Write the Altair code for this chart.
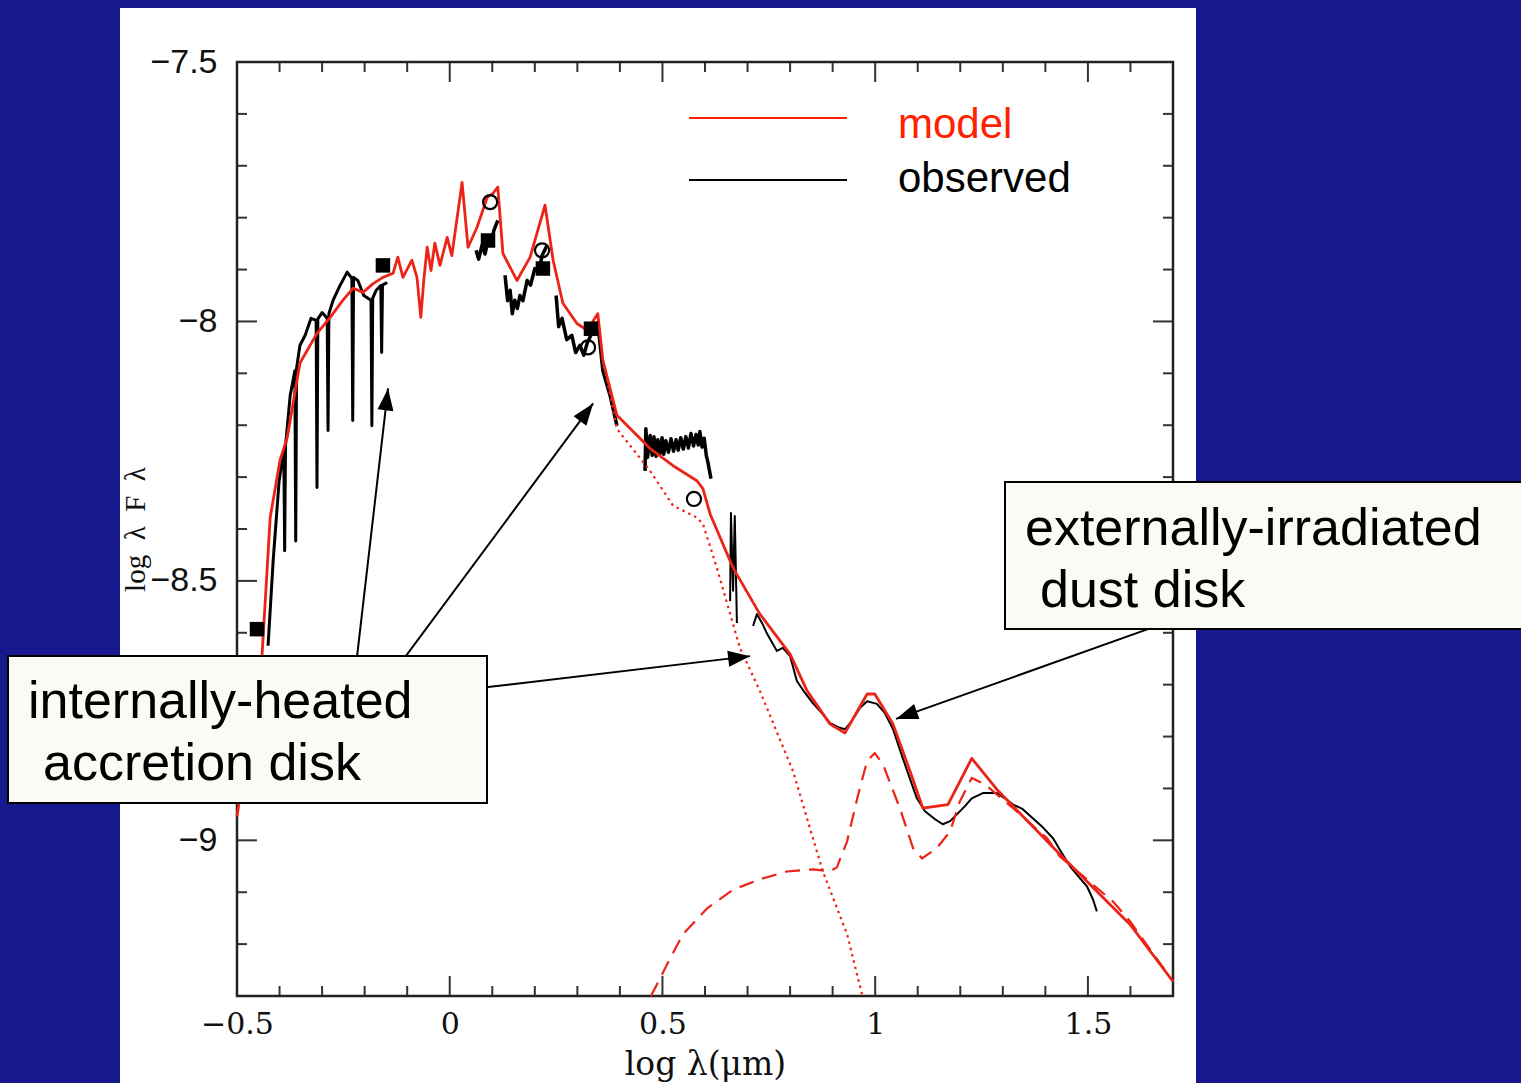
import altair as alt
import pandas as pd

# ---------------- data ----------------
# total model (solid red)
model_x = [-0.500, -0.474, -0.441, -0.422, -0.399, -0.382, -0.352, -0.312, -0.281, -0.251,
           -0.227, -0.204, -0.180, -0.157, -0.133, -0.122, -0.110, -0.089, -0.077, -0.068,
           -0.061, -0.053, -0.044, -0.035, -0.023, -0.006, 0.005, 0.029, 0.043, 0.064,
           0.088, 0.102, 0.113, 0.125, 0.158, 0.189, 0.224, 0.243, 0.266, 0.299,
           0.323, 0.348, 0.360, 0.393, 0.471, 0.525, 0.581, 0.595, 0.612, 0.666,
           0.729, 0.800, 0.840, 0.894, 0.929, 0.981, 0.999, 1.042, 1.082, 1.112,
           1.171, 1.227, 1.286, 1.434, 1.599, 1.700]
model_y = [-8.954, -8.809, -8.641, -8.378, -8.268, -8.224, -8.080, -8.023, -7.992, -7.959,
           -7.936, -7.944, -7.927, -7.915, -7.907, -7.876, -7.915, -7.882, -7.915, -7.992,
           -7.921, -7.857, -7.902, -7.849, -7.892, -7.838, -7.873, -7.732, -7.857, -7.819,
           -7.761, -7.753, -7.741, -7.869, -7.921, -7.876, -7.776, -7.882, -7.965, -8.004,
           -8.017, -7.985, -8.075, -8.181, -8.245, -8.278, -8.307, -8.322, -8.371, -8.475,
           -8.564, -8.641, -8.712, -8.776, -8.793, -8.718, -8.718, -8.776, -8.867, -8.938,
           -8.931, -8.842, -8.902, -9.027, -9.162, -9.272]

# internally-heated accretion disk (dotted red)
disk_x = [0.360, 0.393, 0.471, 0.525, 0.581, 0.595, 0.628, 0.682, 0.729, 0.807, 0.877, 0.934, 0.970]
disk_y = [-8.075, -8.207, -8.288, -8.355, -8.378, -8.390, -8.475, -8.629, -8.712, -8.867, -9.060, -9.181, -9.300]

# externally-irradiated dust disk (dashed red)
dust_x = [0.473, 0.511, 0.548, 0.605, 0.666, 0.729, 0.793, 0.854, 0.894, 0.910, 0.934, 0.959,
          0.981, 0.999, 1.018, 1.058, 1.089, 1.110, 1.145, 1.176, 1.199, 1.227, 1.258, 1.324,
          1.404, 1.434, 1.559, 1.599, 1.700]
dust_y = [-9.300, -9.239, -9.181, -9.131, -9.095, -9.075, -9.060, -9.056, -9.060, -9.052, -9.002, -8.915,
          -8.847, -8.832, -8.853, -8.938, -9.015, -9.035, -9.015, -8.983, -8.925, -8.880, -8.892, -8.938,
          -8.996, -9.031, -9.118, -9.156, -9.272]

# observed spectra (black), several pieces
obs_opt_x = [-0.427, -0.415, -0.401, -0.390, -0.388, -0.386, -0.375, -0.364, -0.362, -0.360,
             -0.352, -0.340, -0.326, -0.314, -0.312, -0.310, -0.300, -0.288, -0.286, -0.284,
             -0.274, -0.258, -0.241, -0.230, -0.228, -0.226, -0.216, -0.202, -0.185, -0.183,
             -0.181, -0.173, -0.162, -0.160, -0.158, -0.147]
obs_opt_y = [-8.625, -8.461, -8.307, -8.249, -8.442, -8.240, -8.143, -8.095, -8.423, -8.090,
             -8.046, -8.027, -7.994, -7.998, -8.320, -7.995, -7.983, -7.994, -8.210, -7.985,
             -7.959, -7.931, -7.905, -7.917, -8.191, -7.915, -7.921, -7.950, -7.959, -8.201,
             -7.955, -7.940, -7.931, -8.060, -7.930, -7.925]
obs_j_x = [0.062, 0.068, 0.076, 0.083, 0.090, 0.097, 0.104, 0.113]
obs_j_y = [-7.863, -7.880, -7.853, -7.870, -7.844, -7.850, -7.824, -7.805]
obs_h_x = [0.130, 0.136, 0.142, 0.147, 0.153, 0.159, 0.165, 0.172, 0.182, 0.190, 0.200, 0.210, 0.217, 0.229]
obs_h_y = [-7.911, -7.960, -7.940, -7.985, -7.959, -7.975, -7.950, -7.960, -7.921, -7.930, -7.898, -7.905, -7.873, -7.853]
obs_k_x = [0.250, 0.256, 0.264, 0.275, 0.287, 0.296, 0.306, 0.315, 0.323, 0.337, 0.348, 0.360, 0.377, 0.393]
obs_k_y = [-7.950, -8.010, -7.994, -8.035, -8.027, -8.060, -8.046, -8.065, -8.042, -8.017, -8.002, -8.095, -8.143, -8.201]
obs_l_x = [0.459, 0.461, 0.465, 0.471, 0.476, 0.480, 0.485, 0.489, 0.494, 0.499, 0.503, 0.508, 0.514,
           0.520, 0.526, 0.532, 0.537, 0.543, 0.549, 0.555, 0.561, 0.567, 0.573, 0.579, 0.584,
           0.588, 0.593, 0.598, 0.603, 0.607, 0.614]
obs_l_y = [-8.288, -8.207, -8.262, -8.220, -8.258, -8.222, -8.260, -8.228, -8.255, -8.224, -8.256, -8.230,
           -8.252, -8.226, -8.250, -8.228, -8.248, -8.224, -8.246, -8.222, -8.244, -8.216, -8.240, -8.218,
           -8.238, -8.212, -8.242, -8.225, -8.258, -8.272, -8.303]
obs_m_x = [0.659, 0.661, 0.666, 0.670, 0.675]
obs_m_y = [-8.539, -8.369, -8.519, -8.375, -8.581]
obs_irs_x = [0.713, 0.722, 0.734, 0.746, 0.769, 0.783, 0.800, 0.816, 0.835, 0.854, 0.875, 0.894,
             0.913, 0.929, 0.945, 0.964, 0.981, 1.004, 1.023, 1.042, 1.065, 1.082, 1.098, 1.117,
             1.140, 1.159, 1.176, 1.192, 1.211, 1.227, 1.253, 1.286, 1.305, 1.324, 1.347, 1.371,
             1.394, 1.418, 1.439, 1.458, 1.481, 1.498, 1.512, 1.521]
obs_irs_y = [-8.587, -8.564, -8.581, -8.602, -8.635, -8.629, -8.645, -8.693, -8.716, -8.736, -8.755, -8.774,
             -8.782, -8.786, -8.770, -8.745, -8.732, -8.737, -8.755, -8.786, -8.842, -8.882, -8.919, -8.944,
             -8.959, -8.969, -8.963, -8.950, -8.934, -8.919, -8.909, -8.909, -8.919, -8.931, -8.940, -8.958,
             -8.975, -8.996, -9.025, -9.050, -9.073, -9.089, -9.114, -9.137]

# photometry
circ_x = [0.095, 0.217, 0.325, 0.574]
circ_y = [-7.770, -7.863, -8.050, -8.342]
sq_x = [-0.453, -0.157, 0.090, 0.219, 0.332]
sq_y = [-8.593, -7.892, -7.844, -7.898, -8.014]

# axis ticks
x_major = [-0.5, 0, 0.5, 1, 1.5]
x_minor = [-0.4, -0.3, -0.2, -0.1, 0.1, 0.2, 0.3, 0.4, 0.6, 0.7, 0.8, 0.9, 1.1, 1.2, 1.3, 1.4, 1.6]
y_major = [-9, -8.5, -8, -7.5]
y_minor = [-9.2, -9.1, -8.9, -8.8, -8.7, -8.6, -8.4, -8.3, -8.2, -8.1, -7.9, -7.8, -7.7, -7.6]

# annotation arrows (tail -> tip, data units) and head angle (deg clockwise from up)
arr_x = [-0.218, -0.105, 0.085, 1.641]
arr_y = [-8.647, -8.647, -8.705, -8.593]
arr_x2 = [-0.145, 0.337, 0.706, 1.049]
arr_y2 = [-8.129, -8.158, -8.645, -8.766]
arr_ang = [6.6, 36.6, 83.3, 250.3]

# ---------------- chart ----------------
W, H = 936, 934
RED = "#EC2418"
NB = "\u00a0"

XS = alt.Scale(domain=[-0.5, 1.7], nice=False, zero=False)
YS = alt.Scale(domain=[-9.3, -7.5], nice=False, zero=False)
XAX = alt.Axis(values=x_major, format="~g", ticks=False, domain=False, grid=False,
               labelFont="DejaVu Serif", labelFontSize=30, labelColor="#111",
               labelPadding=13, labelFlush=False, labelOverlap=False,
               title="log λ(μm)", titleFont="DejaVu Serif", titleFontSize=33,
               titleFontWeight="normal", titleColor="#111", titleY=78,
               titleBaseline="alphabetic", zindex=5)
YAX = alt.Axis(values=y_major, format="~g", ticks=False, domain=False, grid=False,
               labelFont="Liberation Sans", labelFontSize=34, labelColor="#111",
               labelPadding=20, labelFlush=False, labelOverlap=False,
               title=f"log{NB}{NB}λ{NB}{NB}F{NB}{NB}λ", titleFont="Liberation Serif", titleFontSize=29,
               titleFontWeight="normal", titleColor="#111", titleX=-102, titleY=467,
               titleAngle=270, titleAlign="center", titleBaseline="middle", zindex=5)


def X(f="x"):
    return alt.X(f, type="quantitative", scale=XS, axis=XAX)


def Y(f="y"):
    return alt.Y(f, type="quantitative", scale=YS, axis=YAX)


one = alt.Data(values=[{"a": 1}])

panel = alt.Chart(one).mark_rect(color="white", opacity=1).encode(
    x=alt.value(-117), x2=alt.value(959), y=alt.value(-54), y2=alt.value(1030))

layers = [panel]

# ticks on all four sides, pointing inward
for vals, L in [(x_major, 20), (x_minor, 10)]:
    d = pd.DataFrame({"x": vals})
    b = alt.Chart(d).mark_rule(color="#333", strokeWidth=2)
    layers.append(b.encode(x=X(), y=alt.value(H), y2=alt.value(H - L)))
    layers.append(b.encode(x=X(), y=alt.value(0), y2=alt.value(L)))
for vals, L in [(y_major, 20), (y_minor, 10)]:
    d = pd.DataFrame({"y": vals})
    b = alt.Chart(d).mark_rule(color="#333", strokeWidth=2)
    layers.append(b.encode(y=Y(), x=alt.value(0), x2=alt.value(L)))
    layers.append(b.encode(y=Y(), x=alt.value(W), x2=alt.value(W - L)))

frame = alt.Chart(one).mark_rect(filled=False, stroke="#222", strokeWidth=2.5).encode(
    x=alt.value(0), x2=alt.value(W), y=alt.value(0), y2=alt.value(H))
layers.append(frame)

# observed
pieces = [(obs_opt_x, obs_opt_y, 3.0), (obs_j_x, obs_j_y, 3.5), (obs_h_x, obs_h_y, 3.5),
          (obs_k_x, obs_k_y, 3.5), (obs_l_x, obs_l_y, 3.5), (obs_m_x, obs_m_y, 2.0),
          (obs_irs_x, obs_irs_y, 2.0)]
rows = []
for s, (xs, ys, w) in enumerate(pieces):
    for i, (a, b) in enumerate(zip(xs, ys)):
        rows.append({"x": a, "y": b, "seg": s, "o": i, "w": w})
obs_df = pd.DataFrame(rows)
layers.append(alt.Chart(obs_df).mark_line(color="black", strokeJoin="round").encode(
    x=X(), y=Y(), detail="seg:N", order="o:Q",
    strokeWidth=alt.StrokeWidth("w:Q", scale=None)))

# model components
dust_df = pd.DataFrame({"x": dust_x, "y": dust_y, "o": range(len(dust_x))})
layers.append(alt.Chart(dust_df).mark_line(color=RED, strokeWidth=2.2, strokeDash=[15, 9]).encode(
    x=X(), y=Y(), order="o:Q"))
disk_df = pd.DataFrame({"x": disk_x, "y": disk_y, "o": range(len(disk_x))})
layers.append(alt.Chart(disk_df).mark_line(color=RED, strokeWidth=2.2, strokeDash=[2.5, 4]).encode(
    x=X(), y=Y(), order="o:Q"))
model_df = pd.DataFrame({"x": model_x, "y": model_y, "o": range(len(model_x))})
layers.append(alt.Chart(model_df).mark_line(color=RED, strokeWidth=2.8, strokeJoin="round").encode(
    x=X(), y=Y(), order="o:Q"))

# photometry
layers.append(alt.Chart(pd.DataFrame({"x": circ_x, "y": circ_y})).mark_point(
    shape="circle", filled=False, size=200, strokeWidth=2.2, color="black", opacity=1).encode(x=X(), y=Y()))
layers.append(alt.Chart(pd.DataFrame({"x": sq_x, "y": sq_y})).mark_point(
    shape="square", filled=True, size=210, color="black", opacity=1).encode(x=X(), y=Y()))

# legend
layers.append(alt.Chart(one).mark_rule(color="#FF2200", strokeWidth=2).encode(
    x=alt.value(452), x2=alt.value(610), y=alt.value(56)))
layers.append(alt.Chart(one).mark_rule(color="black", strokeWidth=2).encode(
    x=alt.value(452), x2=alt.value(610), y=alt.value(118)))
layers.append(alt.Chart(one).mark_text(align="left", baseline="alphabetic", font="Liberation Sans",
                                       fontSize=42, color="#FF2200").encode(
    x=alt.value(661), y=alt.value(76), text=alt.value("model")))
layers.append(alt.Chart(one).mark_text(align="left", baseline="alphabetic", font="Liberation Sans",
                                       fontSize=42, color="black").encode(
    x=alt.value(661), y=alt.value(130), text=alt.value("observed")))

# arrows
arr_df = pd.DataFrame({"x": arr_x, "y": arr_y, "x2": arr_x2, "y2": arr_y2, "ang": arr_ang})
layers.append(alt.Chart(arr_df).mark_rule(color="black", strokeWidth=2).encode(
    x=X(), y=Y(), x2="x2", y2="y2"))
layers.append(alt.Chart(arr_df).mark_point(shape="M0,0L-0.4,1.1L0.4,1.1Z", filled=True, size=1600,
                                           color="black", opacity=1, strokeWidth=0).encode(
    x=X("x2"), y=Y("y2"), angle=alt.Angle("ang:Q", scale=None)))

# annotation boxes
BOX = "#FBFAF5"
layers.append(alt.Chart(one).mark_rect(fill=BOX, stroke="black", strokeWidth=2, opacity=1).encode(
    x=alt.value(-229), x2=alt.value(250), y=alt.value(594), y2=alt.value(741)))
layers.append(alt.Chart(one).mark_rect(fill=BOX, stroke="black", strokeWidth=2, opacity=1).encode(
    x=alt.value(768), x2=alt.value(1300), y=alt.value(420), y2=alt.value(567)))
for tx, ty, t in [(-209, 656, "internally-heated"), (-194, 718, "accretion disk"),
                  (788, 483, "externally-irradiated"), (803, 545, "dust disk")]:
    layers.append(alt.Chart(one).mark_text(align="left", baseline="alphabetic", font="Liberation Sans",
                                           fontSize=52, color="black").encode(
        x=alt.value(tx), y=alt.value(ty), text=alt.value(t)))

chart = alt.layer(*layers).properties(
    width=W, height=H,
    padding={"left": 237, "top": 62, "right": 348, "bottom": 87},
    autosize=alt.AutoSizeParams(type="none"),
    background="#17178E",
).configure_view(stroke="transparent")

chart.save("out.html", embed_options={"renderer": "svg", "actions": False})
